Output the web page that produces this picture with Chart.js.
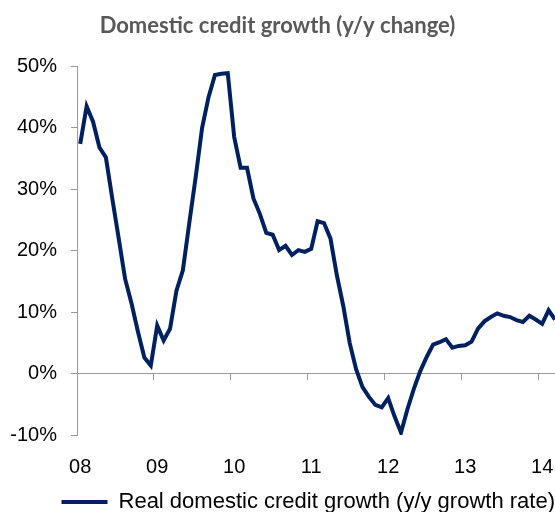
<!DOCTYPE html>
<html>
<head>
<meta charset="utf-8">
<script src="https://cdn.jsdelivr.net/npm/chart.js@4/dist/chart.umd.min.js"></script>
<style>
  html, body { margin: 0; padding: 0; background: #fff; }
  #wrap { width: 555px; height: 512px; }
</style>
</head>
<body>
<div id="wrap"><canvas id="myChart"></canvas></div>
<script>
// Monthly data, Jan 2008 .. Mar 2014 (y/y %)
const yearLabels = ['08', '09', '10', '11', '12', '13', '14'];
const creditGrowth = [
  37.4, 43.5, 41.0, 36.8, 35.2, 28.5, 22.0, 15.4, 11.4, 6.8, 2.6, 1.3,      // 2008
  7.8, 5.4, 7.3, 13.5, 16.8, 24.5, 32.0, 40.0, 45.0, 48.6, 48.8, 48.9,     // 2009
  38.5, 33.5, 33.5, 28.5, 26.0, 22.9, 22.6, 20.1, 20.8, 19.3, 20.1, 19.8,  // 2010
  20.3, 24.8, 24.5, 22.0, 16.0, 11.0, 5.0, 0.7, -2.2, -3.8, -5.1, -5.5,    // 2011
  -4.0, -7.0, -9.6, -5.8, -2.5, 0.4, 2.7, 4.7, 5.1, 5.6, 4.2, 4.5,         // 2012
  4.6, 5.2, 7.3, 8.5, 9.2, 9.8, 9.4, 9.2, 8.7, 8.4, 9.4, 8.8,              // 2013
  8.1, 10.3, 8.8                                                           // 2014
];
const yTicks = [-10, 0, 10, 20, 30, 40, 50];

const navy = '#002060';
const axisGrey = '#9a9a9a';
const labelFont = { family: 'Liberation Sans, Arial, sans-serif', size: 20 };

// month index -> point
const points = creditGrowth.map((v, i) => ({ x: i, y: v }));
// tick marks sit on year boundaries, labels in the middle of January
const yearBounds = yearLabels.map((l, i) => i * 12 - 0.5);
const yearCentres = yearLabels.map((l, i) => i * 12);

const ctx = document.getElementById('myChart').getContext('2d');
new Chart(ctx, {
  type: 'line',
  data: {
    datasets: [{
      label: 'Real domestic credit growth (y/y growth rate)',
      data: points,
      borderColor: navy,
      backgroundColor: navy,
      borderWidth: 4,
      pointRadius: 0,
      pointStyle: 'line',
      tension: 0,
      xAxisID: 'x',
      yAxisID: 'y'
    }]
  },
  options: {
    responsive: true,
    maintainAspectRatio: false,
    animation: false,
    layout: { padding: { left: 0, right: 0, top: 0, bottom: -11 } },
    plugins: {
      title: {
        display: true,
        text: 'Domestic credit growth (y/y change)',
        color: '#595959',
        font: { family: 'Lato, sans-serif', size: 22, weight: 'bold' },
        padding: { top: 13, bottom: 27 }
      },
      legend: {
        position: 'bottom',
        align: 'end',
        labels: {
          color: '#000',
          font: { family: 'Liberation Sans, Arial, sans-serif', size: 22 },
          usePointStyle: true,
          pointStyleWidth: 46,
          padding: 0
        }
      },
      tooltip: { enabled: false }
    },
    scales: {
      y: {
        min: -10,
        max: 50,
        afterBuildTicks: axis => { axis.ticks = yTicks.map(v => ({ value: v })); },
        afterFit: axis => { axis.width = 77; },
        border: { display: true, color: axisGrey, width: 1 },
        grid: { drawOnChartArea: false, drawTicks: true, tickLength: 6, color: axisGrey },
        ticks: {
          color: '#000',
          font: labelFont,
          padding: 14,
          callback: v => v + '%'
        }
      },
      x: {
        type: 'linear',
        position: { y: 0 },
        min: -0.5,
        max: creditGrowth.length - 1,
        afterBuildTicks: axis => { axis.ticks = yearBounds.map(v => ({ value: v })); },
        border: { display: true, color: axisGrey, width: 1 },
        grid: { drawOnChartArea: false, drawTicks: true, tickLength: 6, color: axisGrey },
        ticks: { display: false }
      },
      x2: {
        type: 'linear',
        position: 'bottom',
        min: -0.5,
        max: creditGrowth.length - 1,
        afterBuildTicks: axis => { axis.ticks = yearCentres.map(v => ({ value: v })); },
        afterFit: axis => { axis.paddingLeft = 0; axis.paddingRight = 0; },
        border: { display: false },
        grid: { display: false },
        ticks: {
          color: '#000',
          font: labelFont,
          padding: 12,
          maxRotation: 0,
          autoSkip: false,
          callback: (v, i) => yearLabels[i]
        }
      }
    }
  }
});
</script>
</body>
</html>
